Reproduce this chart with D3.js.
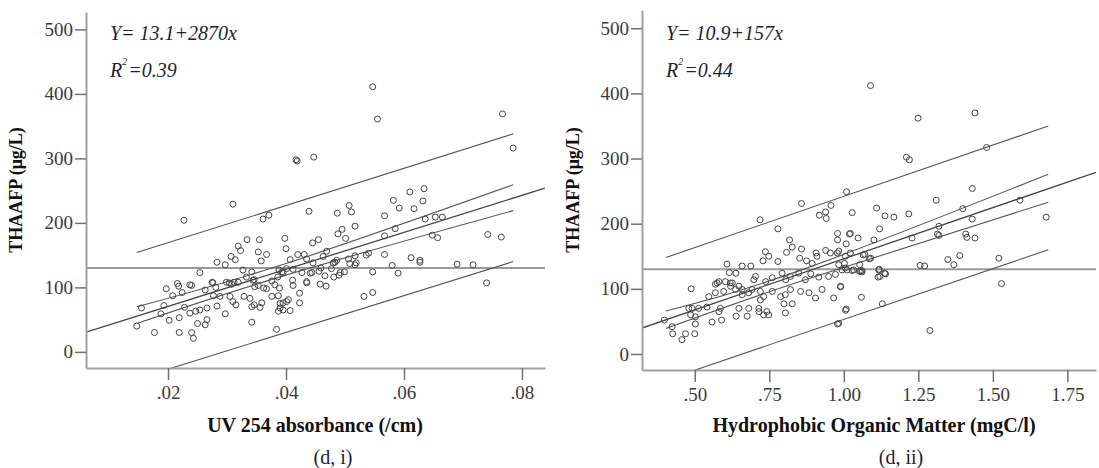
<!DOCTYPE html>
<html lang="en">
<head>
<meta charset="UTF-8">
<title>THAAFP vs UV254 and hydrophobic organic matter</title>
<script src="https://cdn.jsdelivr.net/npm/d3@7/dist/d3.min.js"></script>
<style>
    body { margin: 0; background: #fff; }
    svg, svg text, svg tspan { font-family: "Liberation Serif", "Tinos", "Times New Roman", "DejaVu Serif", serif !important; }
    .axis path { stroke: #a0a0a0; stroke-width: 2; }
    .axis line { stroke: #707070; stroke-width: 1.5; }
    .axis text { fill: #3a3a3a; font-size: 19px; }
    .dot { fill: none; stroke: #454545; stroke-width: 1; }
    .band { fill: none; stroke: #555; stroke-width: 1.1; }
    .fit { fill: none; stroke: #444; stroke-width: 1.3; }
    .ref { stroke: #9a9a9a; stroke-width: 2; }
</style>
</head>
<body>
<svg id="chart" width="1099" height="468" font-family="Liberation Serif, serif"></svg>
<script>
// ---- data ----
// (d, i) UV254 absorbance (/cm) vs THAAFP (ug/L)
const uvPoints = [
    [0.0547,411],[0.0555,361],[0.0767,369],[0.0785,316],[0.0417,298],[0.0419,296],[0.0447,302],[0.031,229],
    [0.0227,204],[0.0361,206],[0.0371,212],[0.0439,218],[0.0487,215],[0.0507,227],[0.0511,217],[0.0567,211],
    [0.0582,235],[0.0592,223],[0.061,248],[0.0617,222],[0.0634,253],[0.0632,234],[0.0636,206],[0.0653,209],
    [0.0665,209],[0.0517,195],[0.0495,190],[0.0488,183],[0.0501,176],[0.0585,191],[0.0567,180],[0.0648,181],
    [0.0657,177],[0.0742,182],[0.0765,178],[0.069,136],[0.0717,135],[0.074,107],[0.0612,146],[0.0627,142],
    [0.0627,139],[0.0567,151],[0.058,134],[0.059,122],[0.0547,124],[0.0547,92],[0.0532,86],[0.0536,150],
    [0.054,153],[0.0517,149],[0.0517,135],[0.0469,156],[0.0483,139],[0.0481,116],[0.049,119],[0.0499,124],
    [0.0455,174],[0.0445,169],[0.0398,176],[0.04,160],[0.0407,143],[0.042,151],[0.0431,151],[0.0456,125],
    [0.0459,130],[0.0466,118],[0.0441,122],[0.0435,107],[0.0458,105],[0.0468,102],[0.0411,111],[0.0412,103],
    [0.0423,91],[0.0334,174],[0.0355,174],[0.0353,155],[0.0367,151],[0.0319,164],[0.0323,157],[0.0307,148],
    [0.0314,143],[0.0283,139],[0.0297,135],[0.0254,123],[0.0327,127],[0.0342,124],[0.0358,141],[0.0388,127],
    [0.0393,124],[0.0197,98],[0.0216,106],[0.0218,102],[0.024,103],[0.0275,108],[0.0299,108],[0.0308,105],
    [0.0319,108],[0.0346,112],[0.0353,103],[0.0367,98],[0.0376,110],[0.0381,104],[0.0386,116],[0.0155,68],
    [0.0147,40],[0.0177,30],[0.0193,72],[0.0188,59],[0.0202,49],[0.0208,87],[0.0224,92],[0.0219,30],
    [0.024,30],[0.0243,21],[0.025,44],[0.0266,50],[0.0263,42],[0.0219,53],[0.0228,69],[0.0237,60],
    [0.0247,63],[0.0254,65],[0.0266,68],[0.0283,71],[0.0297,59],[0.0263,96],[0.0277,87],[0.0288,86],
    [0.0305,86],[0.031,78],[0.0315,73],[0.0342,46],[0.0329,86],[0.0339,83],[0.0346,73],[0.0359,76],
    [0.0342,70],[0.0356,69],[0.0376,86],[0.0387,87],[0.039,75],[0.0404,81],[0.0395,65],[0.0387,63],
    [0.0384,35],[0.0237,104],[0.0276,107],[0.0281,100],[0.0304,107],[0.0312,108],[0.0333,116],[0.0344,111],
    [0.0347,101],[0.0362,99],[0.0389,99],[0.0395,123],[0.0401,129],[0.0423,76],[0.0407,64],[0.0395,76],
    [0.0401,78],[0.039,68],[0.0435,144],[0.0446,138],[0.0463,148],[0.048,138],[0.0486,142],[0.0506,144],
    [0.0508,137],[0.0519,138],[0.0412,128],[0.0427,123],[0.0444,123],[0.0477,129],[0.0492,123],[0.0435,109]
];
// (d, ii) hydrophobic organic matter (mgC/l) vs THAAFP (ug/L)
const homPoints = [
    [1.0896,412],[1.249,362],[1.44,370],[1.479,317],[1.21,302],[1.22,298],[1.009,249],[0.858,231],
    [0.719,206],[0.779,192],[0.918,213],[0.939,218],[0.957,228],[0.941,208],[1.028,217],[1.11,224],
    [1.138,212],[1.168,210],[1.218,215],[1.31,236],[1.431,254],[1.399,223],[1.431,207],[1.591,236],
    [1.679,210],[1.12,192],[0.979,185],[0.979,175],[1.019,184],[1.048,178],[1.008,169],[1.101,175],
    [1.229,178],[1.319,196],[1.314,184],[1.319,182],[1.409,184],[1.413,179],[1.44,178],[1.52,147],
    [1.529,108],[1.349,145],[1.369,137],[1.389,151],[1.256,136],[1.271,135],[1.119,130],[1.121,119],
    [1.137,124],[1.09,147],[1.065,152],[1.053,137],[1.028,128],[1.056,127],[1.061,128],[1.011,129],
    [1.002,139],[0.978,155],[0.955,155],[0.939,159],[0.907,155],[0.91,150],[0.894,139],[0.875,143],
    [0.852,147],[0.818,175],[0.827,164],[0.858,161],[0.808,156],[0.779,142],[0.729,143],[0.737,157],
    [0.748,150],[0.608,138],[0.659,135],[0.688,135],[0.616,125],[0.638,124],[0.488,100],[0.569,107],
    [0.581,111],[0.619,109],[0.648,104],[0.659,99],[0.698,114],[0.704,119],[0.738,111],[0.76,117],
    [0.793,124],[0.805,114],[0.821,119],[0.849,124],[0.871,114],[0.889,123],[0.916,118],[0.949,119],
    [0.972,122],[0.994,129],[1.061,126],[0.398,52],[0.424,42],[0.426,31],[0.457,22],[0.469,31],
    [0.5,31],[0.502,46],[0.486,60],[0.491,70],[0.558,49],[0.59,52],[0.581,65],[0.639,58],
    [0.676,58],[0.648,70],[0.681,70],[0.715,65],[0.731,60],[0.742,65],[0.748,60],[0.804,63],
    [0.827,77],[0.799,77],[0.715,70],[0.72,83],[0.979,46],[0.966,86],[0.989,103],[1.006,67],
    [0.927,99],[0.905,86],[0.883,94],[0.855,96],[0.804,91],[0.821,99],[0.788,88],[0.76,96],
    [0.731,88],[0.72,96],[0.692,99],[0.681,94],[0.659,91],[0.637,99],[0.62,104],[0.597,96],
    [0.569,94],[0.547,88],[0.541,72],[0.513,70],[0.48,70],[0.502,57],[0.586,70],[0.575,109],
    [0.603,111],[0.626,109],[1.289,36],[1.129,77],[1.059,87],[1.008,69],[0.989,104],[0.983,47],
    [1.022,185],[1.086,146],[1.07,153],[0.983,158],[1.005,150],[1.022,155],[0.983,137],[1.005,132],
    [1.033,129],[1.052,127],[1.117,129],[1.115,118],[1.14,123]
];

// fit lines (intercept, slope) as drawn
const uvFit = [13.1, 2870];
const homFit = [-10.9, 157];

// interval lines: [x, y] nodes
const uvBands = [
    [[0.0147,154],[0.0785,338]],
    [[0.0147,70],[0.04,137],[0.0785,259]],
    [[0.0147,44],[0.04,119],[0.0785,219]],
    [[0.0147,-42],[0.0785,140]]
];
const homBands = [
    [[0.403,148],[1.686,350]],
    [[0.403,66],[0.87,131],[1.686,276]],
    [[0.403,39],[0.87,114],[1.686,233]],
    [[0.403,-40],[1.686,160]]
];

const refLevel = 130;
const yTicks = [0, 100, 200, 300, 400, 500];
const uvTicks = [0.02, 0.04, 0.06, 0.08];
const homTicks = [0.5, 0.75, 1.0, 1.25, 1.5, 1.75];

const panels = [
    {
        points: uvPoints, fit: uvFit, bands: uvBands, xTicks: uvTicks,
        xDomain: [0.0061, 0.0839], yDomain: [-25, 527],
        left: 86, right: 545, top: 12, bottom: 368,
        eq: "Y= 13.1+2870x", r2: "=0.39",
        xLabel: "UV 254 absorbance (/cm)", caption: "(d, i)", labelX: 315, captionX: 333, yLabelX: 22
    },
    {
        points: homPoints, fit: homFit, bands: homBands, xTicks: homTicks,
        xDomain: [0.323, 1.846], yDomain: [-24.6, 528],
        left: 642, right: 1096, top: 10, bottom: 370,
        eq: "Y= 10.9+157x", r2: "=0.44",
        xLabel: "Hydrophobic Organic Matter (mgC/l)", caption: "(d, ii)", labelX: 874, captionX: 901, yLabelX: 579
    }
];

const svg = d3.select("#chart");
const fmtX = v => d3.format(".2f")(v).replace(/^0/, "");

panels.forEach((p, i) => {
    const x = d3.scaleLinear().domain(p.xDomain).range([p.left, p.right]);
    const y = d3.scaleLinear().domain(p.yDomain).range([p.bottom, p.top]);
    const g = svg.append("g");

    g.append("clipPath").attr("id", "clip" + i)
        .append("rect")
        .attr("x", p.left).attr("y", p.top)
        .attr("width", p.right - p.left).attr("height", p.bottom - p.top);

    const plot = g.append("g").attr("clip-path", `url(#clip${i})`);

    // reference level
    plot.append("line").attr("class", "ref")
        .attr("x1", p.left).attr("x2", p.right)
        .attr("y1", y(refLevel)).attr("y2", y(refLevel));

    // fit line over the whole axis
    const line = d3.line().x(d => x(d[0])).y(d => y(d[1]));
    plot.append("path").attr("class", "fit")
        .attr("d", line(p.xDomain.map(v => [v, p.fit[0] + p.fit[1] * v])));

    // confidence / prediction lines
    const curve = d3.line().x(d => x(d[0])).y(d => y(d[1])).curve(d3.curveNatural);
    plot.selectAll(".band").data(p.bands).enter()
        .append("path").attr("class", "band")
        .attr("d", d => curve(d));

    plot.selectAll(".dot").data(p.points).enter()
        .append("circle").attr("class", "dot")
        .attr("cx", d => x(d[0])).attr("cy", d => y(d[1]))
        .attr("r", 3);

    // axes
    g.append("g").attr("class", "axis")
        .attr("transform", `translate(${p.left},0)`)
        .call(d3.axisLeft(y).tickValues(yTicks).tickSize(11).tickSizeOuter(0).tickPadding(2).tickFormat(d3.format("d")));
    g.append("g").attr("class", "axis")
        .attr("transform", `translate(0,${p.bottom})`)
        .call(d3.axisBottom(x).tickValues(p.xTicks).tickSize(12).tickSizeOuter(0).tickPadding(6).tickFormat(fmtX));

    // equation, R squared below it
    const eq = g.append("g").attr("fill", "#1f1f33")
        .style("font-style", "italic").style("font-size", "20px");
    eq.append("text").attr("x", p.left + 24).attr("y", 40).text(p.eq);
    const r = eq.append("text").attr("x", p.left + 24).attr("y", 77);
    r.append("tspan").text("R");
    r.append("tspan").attr("dy", -12).style("font-size", "10px").text("2");
    r.append("tspan").attr("dx", 1).attr("dy", 12).text(p.r2);

    // labels
    g.append("text")
        .attr("transform", `translate(${p.yLabelX},190) rotate(-90)`)
        .attr("text-anchor", "middle").attr("fill", "#111")
        .style("font-weight", "bold").style("font-size", "18px")
        .text("THAAFP (\u03bcg/L)");
    g.append("text").attr("x", p.labelX).attr("y", 432)
        .attr("text-anchor", "middle").attr("fill", "#111")
        .style("font-weight", "bold").style("font-size", "20px")
        .text(p.xLabel);
    g.append("text").attr("x", p.captionX).attr("y", 464)
        .attr("text-anchor", "middle").attr("fill", "#1f1f33")
        .style("font-size", "20px")
        .text(p.caption);
});
</script>
</body>
</html>
